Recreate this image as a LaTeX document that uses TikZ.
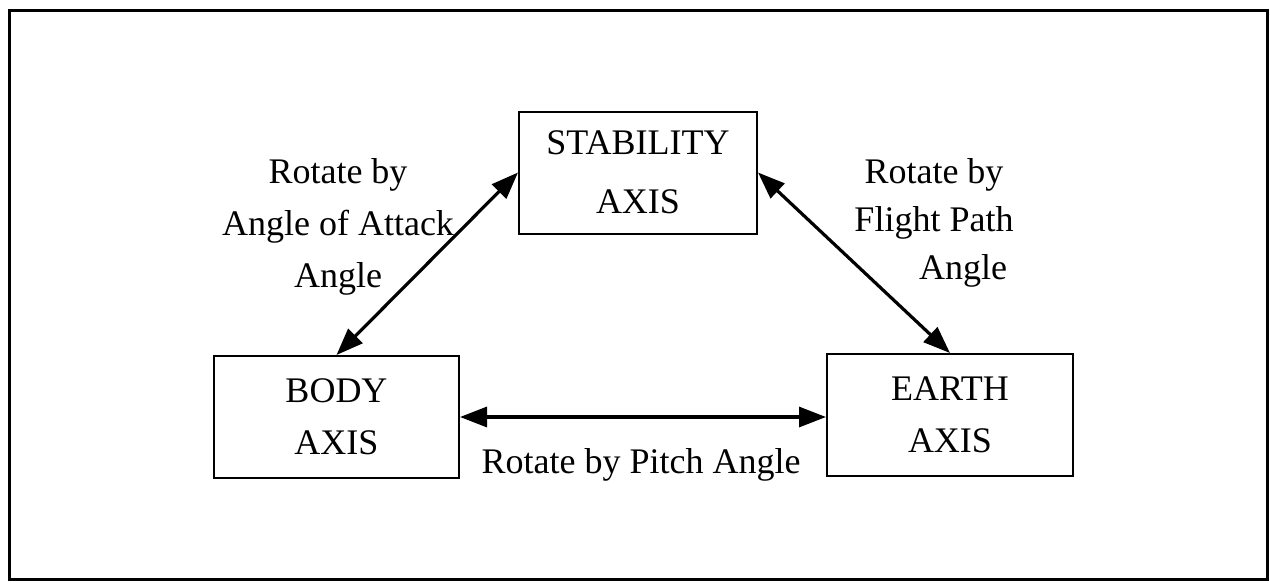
\documentclass[tikz,border=0pt]{standalone}
\usepackage{fontspec}
\setmainfont{Liberation Serif}
\usetikzlibrary{arrows.meta}

\tikzset{
    axisbox/.style={draw,line width=2pt,minimum width=#1,minimum height=122pt,
        inner sep=0pt,align=center,font=\fontsize{36}{52}\selectfont},
    rot/.style={{Triangle[length=27pt,width=20pt]}-{Triangle[length=27pt,width=20pt]},
        line width=3.2pt},
    rotlabel/.style={align=center,inner sep=0pt,font=\fontsize{36}{#1}\selectfont}
}

\begin{document}
\begin{tikzpicture}[x=1pt,y=-1pt]
    \useasboundingbox (0,0) rectangle (1270,582);
    % frame
    \draw[line width=3pt](9,10) rectangle (1267,579);

    % the three axis systems
    \node[axisbox=238pt] (stab) at (638,172.5) {STABILITY\\[7pt]AXIS};
    \node[axisbox=245pt] (body) at (336.5,417) {BODY\\AXIS};
    \node[axisbox=246pt] (earth) at (950,415) {EARTH\\AXIS};

    % rotations
    \draw[rot](body.north)--(stab.west);
    \draw[rot](stab.east)--(earth.north);
    \draw[rot](body.east)--(body.east-|earth.west);

    \node[rotlabel=52pt] (alpha) at (338,227) {Rotate by\\Angle of Attack\\Angle};
    \node[rotlabel=48pt] (gamma) at (934,223) {Rotate by\\Flight Path\\\hspace*{58pt}Angle};
    \node[rotlabel=52pt,anchor=base] (theta) at (641,473) {Rotate by Pitch Angle};
\end{tikzpicture}
\end{document}
